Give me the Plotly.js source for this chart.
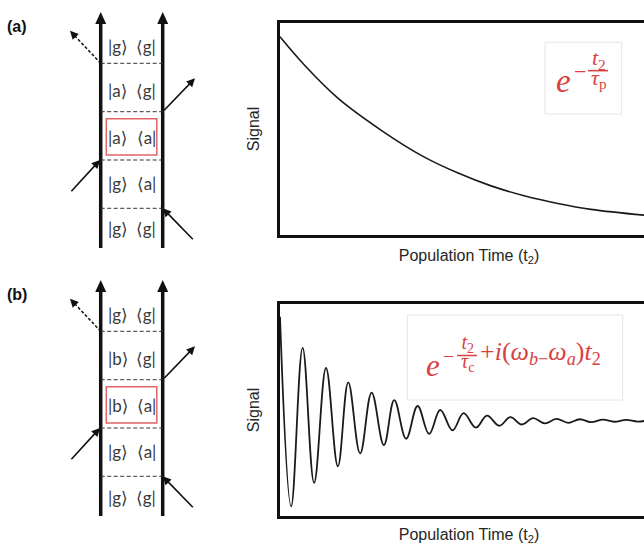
<!DOCTYPE html>
<html><head><meta charset="utf-8">
<script src="https://cdn.plot.ly/plotly-3.0.1.min.js"></script>
<style>html,body{margin:0;padding:0;overflow:hidden;background:#fff}#chart{width:660px;height:545px}</style>
</head><body><div id="chart"></div>
<script>
// ---------- data ----------
// (a) population decay
const timeA   = [0, 0.65, 1.56, 2.72, 3.88, 4.80, 5.69, 6.58, 7.49, 8.38, 9.84, 10.2];
const signalA = [0.939, 0.806, 0.647, 0.495, 0.367, 0.290, 0.229, 0.182, 0.145, 0.117, 0.089, 0.084];
// (b) coherence beating: successive maxima / minima
const timeB   = [0, 0.30, 0.61, 0.92, 1.24, 1.56, 1.84, 2.16, 2.47, 2.80, 3.08, 3.40, 3.71, 4.02, 4.32, 4.65,
                 4.95, 5.28, 5.58, 5.91, 6.21, 6.52, 6.82, 7.14, 7.45, 7.77, 8.08, 8.38, 8.71, 9.01, 9.33, 9.64, 9.95];
const signalB = [0.944, 0.041, 0.796, 0.153, 0.700, 0.232, 0.632, 0.293, 0.583, 0.333, 0.547, 0.363, 0.519, 0.386, 0.500, 0.403,
                 0.485, 0.416, 0.473, 0.425, 0.466, 0.431, 0.461, 0.436, 0.458, 0.439, 0.456, 0.442, 0.454, 0.444, 0.453, 0.445, 0.452];
// double-sided Feynman diagrams, rows from top to bottom
const ketsA = ['g', 'a', 'a', 'g', 'g'];
const brasA = ['g', 'g', 'a', 'a', 'g'];
const ketsB = ['g', 'b', 'b', 'g', 'g'];
const brasB = ['g', 'g', 'a', 'a', 'g'];
const panelLabels = ['(a)', '(b)'];
const xTitle = 'Population Time (t<sub>2</sub>)';
const yTitle = 'Signal';

// ---------- layout helpers ----------
const W = 660, H = 545;
const px = x => x / W, py = y => 1 - y / H;
const shapes = [], annotations = [];
const INK = '#111', RED = '#d94141', BOXRED = '#e06666';
const KETFONT = {family: 'Lato, "DejaVu Sans", sans-serif', size: 17, color: '#3a3a3a'};
const SERIF = 'Liberation Serif, "DejaVu Serif", serif';

function note(x, y, text, font, opts) {
  annotations.push(Object.assign({xref: 'paper', yref: 'paper', x: px(x), y: py(y), text: text, showarrow: false,
    xanchor: 'center', yanchor: 'middle', borderpad: 0, font: font}, opts || {}));
}
function red(size) { return {family: SERIF, size: size, color: RED}; }
function pline(x0, y0, x1, y1, line) {
  shapes.push({type: 'line', xref: 'paper', yref: 'paper', x0: px(x0), y0: py(y0), x1: px(x1), y1: py(y1), line: line});
}
function arrow(tipx, tipy, tailx, taily) {
  annotations.push({xref: 'paper', yref: 'paper', x: px(tipx), y: py(tipy), ax: tailx - tipx, ay: taily - tipy,
    text: '', showarrow: true, arrowhead: 2, arrowsize: 1.05, arrowwidth: 1.6, arrowcolor: INK});
}
// stacked fraction as one two-line text: the small base size sets a tight line pitch
function fraction(xc, yc, yBar, x0, x1, num, den, size, pitchSize) {
  const s = t => `<span style="font-size:${size}px">${t}</span>`;
  note(xc, yc, s(num) + '<br>' + s(den), red(pitchSize), {align: 'center'});
  pline(x0, yBar, x1, yBar, {color: RED, width: 1.5});
}

function diagram(off, kets, bras, label) {
  const xL = 100.7, xR = 162.7, yTip = 12, yBot = 248;
  [xL, xR].forEach(x => {
    pline(x, yBot + off, x, yTip + 9 + off, {color: INK, width: 3.5});
    shapes.push({type: 'path', xref: 'paper', yref: 'paper',
      path: `M${px(x - 5.5)},${py(yTip + 12 + off)} L${px(x)},${py(yTip + off)} L${px(x + 5.5)},${py(yTip + 12 + off)} Z`,
      fillcolor: INK, line: {color: INK, width: 0}});
  });
  [63.3, 111.7, 160, 208.3].forEach(y => pline(xL, y + off, xR, y + off, {color: '#333', width: 1, dash: '4px,2.5px'}));
  [46, 90, 137.5, 183.5, 229].forEach((y, i) => {
    note(117.5, y + off, '|' + kets[i] + '⟩', KETFONT);
    note(146, y + off, '⟨' + bras[i] + '|', KETFONT);
  });
  shapes.push({type: 'rect', xref: 'paper', yref: 'paper', x0: px(106.3), x1: px(156.8), y0: py(118.8 + off), y1: py(155 + off),
    line: {color: BOXRED, width: 1.5}});
  // emitted (signal) field: dashed
  pline(xL, 63.3 + off, 74, 35 + off, {color: INK, width: 1.5, dash: '3px,2px'});
  arrow(70, 30.7 + off, 76.2, 37.3 + off);
  arrow(195, 78.3 + off, 162.7, 111.7 + off);
  arrow(100, 160 + off, 70, 192.7 + off);
  arrow(162.7, 208.3 + off, 194.3, 240.7 + off);
  note(16.5, 26 + off, '<b>' + label + '</b>', {family: 'Liberation Sans, Arial, sans-serif', size: 16, color: INK});
}
diagram(0, ketsA, brasA, panelLabels[0]);
diagram(268, ketsB, brasB, panelLabels[1]);

// formula (a)
shapes.push({type: 'rect', xref: 'paper', yref: 'paper', x0: px(545), x1: px(621.7), y0: py(42.3), y1: py(114), line: {color: '#e6e6e6', width: 1}});
note(563, 81, '<i>e</i>', red(33));
note(580, 71, '−', red(22));
fraction(599, 69, 70.7, 588, 608, '<i>t</i><sub>2</sub>', '<i>τ</i><sub>p</sub>', 22, 15);
// formula (b)
shapes.push({type: 'rect', xref: 'paper', yref: 'paper', x0: px(407.3), x1: px(622.7), y0: py(315), y1: py(400), line: {color: '#e6e6e6', width: 1}});
note(433, 365.5, '<i>e</i>', red(31));
note(448, 356, '−', red(20));
fraction(467.5, 353, 355.5, 457, 477, '<i>t</i><sub>2</sub>', '<i>τ</i><sub>c</sub>', 20, 14.5);
note(479, 352.7, '+<i>i</i>(<i>ω</i><sub><i>b</i>−</sub><i>ω</i><sub><i>a</i></sub>)<i>t</i><sub>2</sub>', red(26), {xanchor: 'left'});

const titleFont = {family: 'Liberation Sans, Arial, sans-serif', size: 16, color: '#262626'};
const axBase = {showline: true, mirror: true, linewidth: 3, linecolor: '#111', showgrid: false, zeroline: false,
  showticklabels: false, ticks: '', fixedrange: true};

const traces = [
  {x: timeA, y: signalA, xaxis: 'x', yaxis: 'y', mode: 'lines', line: {color: '#1a1a1a', width: 1.6, shape: 'spline', smoothing: 1}, hoverinfo: 'skip'},
  {x: timeB, y: signalB, xaxis: 'x2', yaxis: 'y2', mode: 'lines', line: {color: '#1a1a1a', width: 1.8, shape: 'spline', smoothing: 1.1}, hoverinfo: 'skip'}
];

const layout = {
  width: W, height: H, margin: {l: 0, r: 0, t: 0, b: 0}, showlegend: false,
  paper_bgcolor: '#fff', plot_bgcolor: '#fff',
  xaxis:  Object.assign({}, axBase, {domain: [280 / W, 658 / W], range: [0, 10.19], anchor: 'y',  title: {text: xTitle, font: titleFont, standoff: 13}}),
  yaxis:  Object.assign({}, axBase, {domain: [py(235), py(23)], range: [-0.005, 1.005], anchor: 'x', title: {text: yTitle, font: titleFont, standoff: 14}}),
  xaxis2: Object.assign({}, axBase, {domain: [280 / W, 658 / W], range: [0, 10.19], anchor: 'y2', title: {text: xTitle, font: titleFont, standoff: 13}}),
  yaxis2: Object.assign({}, axBase, {domain: [py(516), py(304)], range: [-0.005, 1.005], anchor: 'x2', title: {text: yTitle, font: titleFont, standoff: 14}}),
  shapes: shapes, annotations: annotations
};
Plotly.newPlot('chart', traces, layout, {displayModeBar: false, staticPlot: true});
</script></body></html>
